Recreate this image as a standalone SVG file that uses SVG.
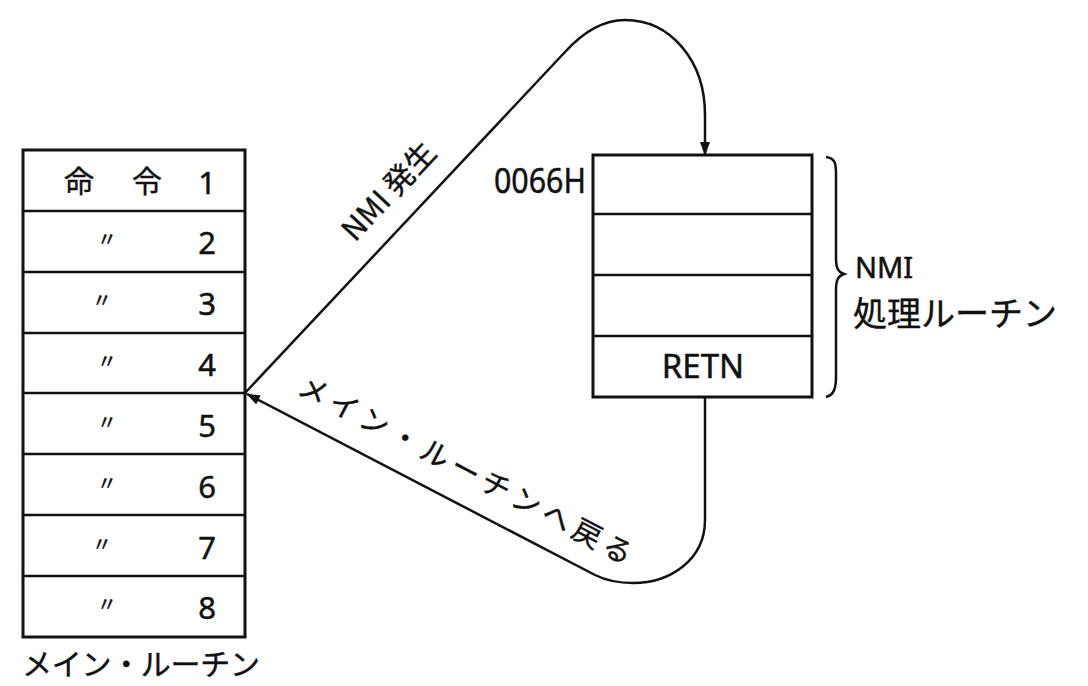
<svg xmlns="http://www.w3.org/2000/svg" width="1088" height="686" viewBox="0 0 1088 686">
<defs>
<style>
.box{fill:#fff;stroke:#111;stroke-width:3}
.div{stroke:#111;stroke-width:2.5;fill:none}
.ln{stroke:#111;stroke-width:2.5;fill:none}
.t{font-family:"Noto Sans","Noto Sans CJK JP",sans-serif;fill:#111;stroke:#111;stroke-width:0.5}
.j{font-family:"Noto Sans CJK JP",sans-serif;fill:#111;stroke:#111;stroke-width:0.4}
</style>
<marker id="ah" markerWidth="14" markerHeight="10" refX="13" refY="5" orient="auto" markerUnits="userSpaceOnUse">
<path d="M0,0 L14,5 L0,10 Z" fill="#111"/>
</marker>
</defs>
<rect width="1088" height="686" fill="#fff"/>
<g id="main-routine">
<rect class="box" x="23" y="150" width="222" height="487"/>
<path class="div" d="M23,211H245M23,272H245M23,333H245M23,393H245M23,454H245M23,515H245M23,576H245"/>
<text class="j" x="79" y="192" font-size="30" text-anchor="middle">命</text>
<text class="j" x="147" y="192" font-size="30" text-anchor="middle">令</text>
<g class="t" font-size="31" text-anchor="middle">
<text x="207" y="194">1</text>
<text x="207" y="254">2</text>
<text x="207" y="315">3</text>
<text x="207" y="376">4</text>
<text x="207" y="437">5</text>
<text x="207" y="498">6</text>
<text x="207" y="559">7</text>
<text x="207" y="619">8</text>
</g>
<g class="j" font-size="20" text-anchor="middle">
<text x="107" y="247">〃</text>
<text x="102" y="308">〃</text>
<text x="107" y="369">〃</text>
<text x="107" y="430">〃</text>
<text x="107" y="491">〃</text>
<text x="102" y="552">〃</text>
<text x="107" y="612">〃</text>
</g>
<text class="j" x="22" y="675" font-size="30" textLength="238">メイン・ルーチン</text>
</g>
<g id="nmi-routine">
<rect class="box" x="593" y="155" width="219" height="242"/>
<path class="div" d="M593,214H812M593,275H812M593,336H812"/>
<text class="t" x="586" y="193" font-size="34" text-anchor="end" textLength="92" lengthAdjust="spacingAndGlyphs">0066H</text>
<text class="t" x="703" y="378" font-size="33" text-anchor="middle">RETN</text>
</g>
<g id="brace-label">
<path class="ln" stroke-width="2" d="M826,157 C836,158 836,165 836,175 L836,258 C836,268 838,272 844,274 C838,276 836,280 836,290 L836,377 C836,388 834,395 826,397"/>
<text class="t" x="855" y="278" font-size="29">NMI</text>
<text class="j" x="853" y="326" font-size="34">処理ルーチン</text>
</g>
<g id="connectors">
<path class="ln" marker-end="url(#ah)" d="M245,393 L565,52 C585,30 605,20 625,20 C670,20 705,60 705,115 L705,155"/>
<path class="ln" marker-end="url(#ah)" d="M705,397 L705,520 C705,560 670,583 633,583 C615,583 605,580 595,575 L247,394"/>
<text class="j" x="0" y="0" font-size="30" transform="translate(355,243) rotate(-47)">NMI 発生</text>
<text class="j" x="0" y="0" font-size="29" transform="translate(296,393) rotate(27.6)" textLength="372">メイン・ルーチンへ戻る</text>
</g>
</svg>
